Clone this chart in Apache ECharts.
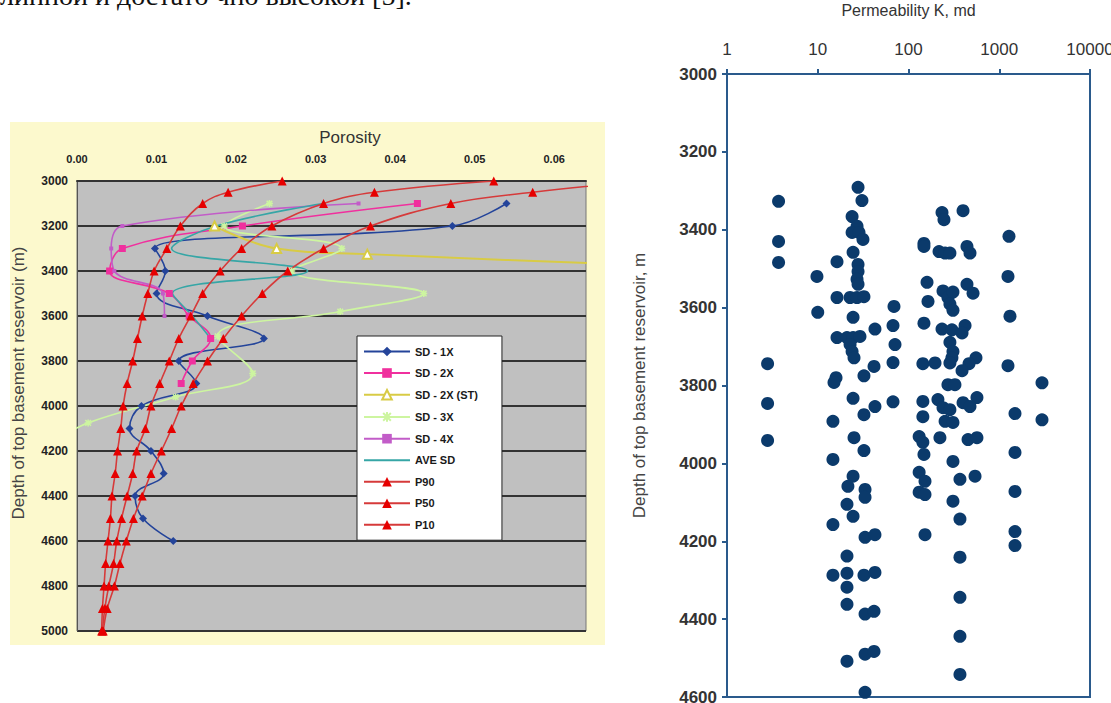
<!DOCTYPE html>
<html>
<head>
<meta charset="utf-8">
<script src="https://cdn.jsdelivr.net/npm/echarts@6/dist/echarts.min.js"></script>
<style>
  html, body { margin: 0; padding: 0; background: #fff; }
  #chart { width: 1111px; height: 703px; }
</style>
</head>
<body>
<div id="chart"></div>
<script>
// --- porosity profiles (left chart) ---
const pDepth = [3000, 3050, 3100, 3200, 3300, 3400, 3500, 3600, 3700, 3800, 3900, 4000, 4100, 4200, 4300, 4400, 4500, 4600, 4700, 4800, 4900, 5000]
const p90 = [0.0258, 0.0190, 0.0158, 0.0130, 0.0113, 0.0097, 0.0089, 0.0082, 0.0076, 0.0070, 0.0063, 0.0058, 0.0055, 0.0051, 0.0048, 0.0044, 0.0042, 0.0039, 0.0036, 0.0034, 0.0032, 0.0031]
const p50 = [0.0524, 0.0374, 0.0310, 0.0245, 0.0207, 0.0180, 0.0158, 0.0143, 0.0128, 0.0116, 0.0104, 0.0093, 0.0086, 0.0075, 0.0070, 0.0063, 0.0056, 0.0050, 0.0046, 0.0040, 0.0035, 0.0032]
const p10 = [0.0710, 0.0573, 0.0470, 0.0369, 0.0310, 0.0265, 0.0233, 0.0207, 0.0184, 0.0164, 0.0146, 0.0131, 0.0119, 0.0106, 0.0093, 0.0082, 0.0071, 0.0062, 0.0054, 0.0047, 0.0038, 0.0033]

const sd1Depth = [3100, 3200, 3300, 3400, 3500, 3600, 3700, 3800, 3900, 4000, 4100, 4200, 4300, 4400, 4500, 4600]
const sd1 = [0.0540, 0.0472, 0.0098, 0.0111, 0.0100, 0.0164, 0.0235, 0.0128, 0.0150, 0.0081, 0.0066, 0.0093, 0.0109, 0.0073, 0.0083, 0.0121]

const sd2Depth = [3100, 3200, 3300, 3400, 3500, 3600, 3700, 3800, 3900]
const sd2 = [0.0428, 0.0208, 0.0057, 0.0041, 0.0116, 0.0141, 0.0168, 0.0145, 0.0131]

const sd2stDepth = [3200, 3300, 3325, 3400]
const sd2st = [0.0173, 0.0251, 0.0365, 0.0900]

const sd3Depth = [3100, 3200, 3300, 3400, 3500, 3580, 3690, 3855, 3960, 4075, 4150]
const sd3 = [0.0242, 0.0185, 0.0333, 0.0270, 0.0436, 0.0331, 0.0177, 0.0221, 0.0124, 0.0014, -0.0025]

const sd4Depth = [3100, 3200, 3300, 3400, 3500, 3600]
const sd4 = [0.0354, 0.0057, 0.0043, 0.0047, 0.0108, 0.0110]

const aveDepth = [3100, 3200, 3300, 3400, 3500, 3600, 3700]
const ave = [0.0310, 0.0175, 0.0119, 0.0290, 0.0120, 0.0145, 0.0168]

// --- permeability samples (right chart) ---
const permK = [
  3.7, 3.7, 3.7, 2.8, 2.8, 2.8,
  9.8, 10, 16.3,
  27.8, 30.7, 23.9, 27.1,
  23.9, 28.5, 31.5, 24.5, 27.8, 27.8, 27.1, 27.8,
  16.3, 22.7, 27.1, 32.3, 24.5, 16.3, 21, 24.5, 29.2, 22.7, 23.9, 25.1,
  42.7, 41.7, 32.3, 15.9, 15.1, 24.5, 42.7, 32.3, 14.7, 25.1, 32.3, 14.7,
  69.2, 67.5, 71, 67.5, 67.5,
  148, 148, 217, 253, 286, 441, 476,
  160, 164, 240, 272, 309, 441, 514, 286, 309,
  148, 234, 301, 420, 389, 286, 309, 301,
  144, 196, 286, 554, 464, 389, 272, 325,
  144, 211, 240, 286, 399, 568, 476,
  144, 253, 309, 131, 144, 222, 453, 568,
  148, 309, 234, 246, 399,
  1280, 1248, 1313, 1248, 1491, 1491,
  2958, 2958,
  24.5, 21.5, 33.2, 33.2, 21, 24.5, 14.7, 33.2, 42.7, 21, 14.7, 21, 32.3, 42.7, 21, 21, 33.2, 41.7, 21, 33.2, 41.7, 33.2,
  131, 152, 131, 152, 152,
  369, 541, 309, 369, 369, 369, 369, 369,
  1491, 1491, 1491
]
const permDepth = [
  3327, 3430, 3484, 3744, 3846, 3941,
  3520, 3612, 3482,
  3291, 3325, 3366, 3391,
  3407, 3407, 3425, 3458, 3489, 3507, 3527, 3540,
  3574, 3574, 3574, 3572, 3625, 3677, 3677, 3677, 3674, 3695, 3713, 3729,
  3655, 3751, 3775, 3780, 3792, 3833, 3854, 3875, 3892, 3934, 3967, 3990,
  3597, 3646, 3695, 3741, 3842,
  3435, 3443, 3456, 3460, 3460, 3443, 3460,
  3535, 3584, 3557, 3574, 3560, 3540, 3563, 3591, 3607,
  3640, 3655, 3657, 3646, 3665, 3689, 3713, 3729,
  3744, 3742, 3742, 3729, 3744, 3762, 3798, 3798,
  3841, 3836, 3857, 3862, 3844, 3831, 3854,
  3880, 3892, 3895, 3931, 3946, 3934, 3939, 3934,
  3977, 3995, 3356, 3374, 3351,
  3417, 3520, 3622, 3749, 3872, 3972,
  3793, 3888,
  4033, 4059, 4067, 4087, 4105, 4136, 4157, 4190, 4183, 4238, 4287, 4282, 4287, 4280, 4318, 4362, 4387, 4380, 4508, 4490, 4483, 4588,
  4023, 4046, 4074, 4080, 4183,
  4041, 4033, 4097, 4143, 4241, 4344, 4444, 4542,
  4072, 4175, 4211
]

const zip = (xs, ys) => xs.map((x, i) => [x, ys[i]])

const chart = echarts.init(document.getElementById('chart'), null, { renderer: 'svg' })

const labelFont = 'Liberation Sans'
const redLine = '#d63a3a'
const redMark = '#e60000'
const blueAxis = '#2a5a8c'
const plain = v => String(v)

function profile(name, xs, ys, color, symbol, size, extra) {
  return Object.assign({
    name: name,
    type: 'line',
    xAxisIndex: 0,
    yAxisIndex: 0,
    data: zip(xs, ys),
    smooth: 0.4,
    symbol: symbol,
    symbolSize: size,
    showAllSymbol: true,
    lineStyle: { color: color, width: 1.6 },
    itemStyle: { color: color },
    emphasis: { disabled: true }
  }, extra || {})
}

chart.setOption({
  animation: false,
  backgroundColor: '#fff',
  textStyle: { fontFamily: labelFont },
  graphic: [
    {
      type: 'rect', z: -10, silent: true,
      shape: { x: 10, y: 122, width: 595, height: 523 },
      style: { fill: '#fcf9cd' }
    },
    {
      type: 'text', silent: true,
      style: {
        x: 0, y: -5, text: 'линной и достато чно высокой [5].',
        font: '28px "Liberation Serif"', fill: '#111',
        align: 'left', verticalAlign: 'middle'
      }
    },
    {
      type: 'text', silent: true,
      style: {
        x: 350, y: 137, text: 'Porosity',
        font: '17px "Liberation Sans"', fill: '#333',
        align: 'center', verticalAlign: 'middle'
      }
    },
    {
      type: 'text', silent: true,
      x: 18, y: 383, rotation: Math.PI / 2,
      style: {
        x: 0, y: 0, text: 'Depth of top basement reservoir (m)',
        font: '17px "Liberation Sans"', fill: '#444',
        align: 'center', verticalAlign: 'middle'
      }
    }
  ],
  legend: {
    data: ['SD - 1X', 'SD - 2X', 'SD - 2X (ST)', 'SD - 3X', 'SD - 4X',
      { name: 'AVE SD', itemStyle: { opacity: 0 } }, 'P90', 'P50', 'P10'],
    orient: 'vertical',
    left: 357,
    top: 336,
    itemWidth: 46,
    itemHeight: 12,
    itemGap: 10.5,
    padding: [10, 24, 10, 6],
    backgroundColor: '#fff',
    borderColor: '#222',
    borderWidth: 1,
    borderRadius: 0,
    selectedMode: false,
    textStyle: { fontSize: 11, fontWeight: 'bold', color: '#1a1a1a', fontFamily: labelFont }
  },
  grid: [
    {
      left: 77, top: 181, width: 509, height: 450,
      show: true, backgroundColor: '#c0c0c0', borderColor: '#777', borderWidth: 1,
      outerBoundsMode: 'none', containLabel: false
    },
    {
      left: 727, top: 74, width: 363, height: 623,
      show: true, backgroundColor: '#fff', borderColor: blueAxis, borderWidth: 2,
      outerBoundsMode: 'none', containLabel: false
    }
  ],
  xAxis: [
    {
      gridIndex: 0, type: 'value', position: 'top',
      min: 0, max: 0.064, interval: 0.01,
      axisLine: { show: true, lineStyle: { color: '#333', width: 2 } },
      axisTick: { show: false },
      splitLine: { show: false },
      axisLabel: {
        showMaxLabel: false, margin: 17,
        fontSize: 11, fontWeight: 'bold', color: '#222',
        formatter: v => v.toFixed(2)
      }
    },
    {
      gridIndex: 1, type: 'log', logBase: 10, position: 'top',
      min: 1, max: 10000,
      name: 'Permeability K, md', nameLocation: 'middle', nameGap: 56,
      nameTextStyle: { fontSize: 16, color: '#333' },
      axisLine: { show: true, lineStyle: { color: blueAxis, width: 2 } },
      axisTick: { show: true, inside: false, length: 5, lineStyle: { color: blueAxis, width: 2 } },
      minorTick: { show: false },
      splitLine: { show: false },
      axisLabel: { margin: 16, fontSize: 17, color: '#333', formatter: plain }
    }
  ],
  yAxis: [
    {
      gridIndex: 0, type: 'value', inverse: true,
      min: 3000, max: 5000, interval: 200,
      axisLine: { show: true, lineStyle: { color: '#555', width: 1 } },
      axisTick: { show: false },
      splitLine: { show: true, lineStyle: { color: '#333', width: 2 } },
      axisLabel: { margin: 9, fontSize: 12, fontWeight: 'bold', color: '#222', formatter: plain }
    },
    {
      gridIndex: 1, type: 'value', inverse: true,
      min: 3000, max: 4600, interval: 200,
      name: 'Depth of top basement reservoir, m', nameLocation: 'middle', nameGap: 79, nameRotate: 90,
      nameTextStyle: { fontSize: 17, color: '#444' },
      axisLine: { show: true, lineStyle: { color: blueAxis, width: 2 } },
      axisTick: { show: true, length: 5, lineStyle: { color: blueAxis, width: 2 } },
      splitLine: { show: false },
      axisLabel: { margin: 10, fontSize: 17, fontWeight: 'bold', color: '#333', formatter: plain }
    }
  ],
  series: [
    profile('SD - 1X', sd1, sd1Depth, '#24449a', 'diamond', 8),
    profile('SD - 2X', sd2, sd2Depth, '#f0309e', 'rect', 7),
    profile('SD - 2X (ST)', sd2st, sd2stDepth, '#d8cb45', 'emptyTriangle', 9, {
      lineStyle: { color: '#d8cb45', width: 2 }
    }),
    profile('SD - 3X', sd3, sd3Depth, '#cdf5a0', 'path://M0,-5L0,5M-5,0L5,0M-4,-4L4,4M-4,4L4,-4', 7, {
      itemStyle: { color: '#cdf5a0', borderColor: '#cdf5a0', borderWidth: 1.5 }
    }),
    profile('SD - 4X', sd4, sd4Depth, '#c25cc8', 'rect', 4),
    profile('AVE SD', ave, aveDepth, '#36a6a6', 'none', 0),
    profile('P90', p90, pDepth, redLine, 'triangle', 9, { itemStyle: { color: redMark } }),
    profile('P50', p50, pDepth, redLine, 'triangle', 9, { itemStyle: { color: redMark } }),
    profile('P10', p10, pDepth, redLine, 'triangle', 9, { itemStyle: { color: redMark } }),
    {
      name: 'Permeability',
      type: 'scatter',
      xAxisIndex: 1,
      yAxisIndex: 1,
      data: zip(permK, permDepth),
      symbol: 'circle',
      symbolSize: 13,
      itemStyle: { color: '#0b3a6b', opacity: 1 },
      emphasis: { disabled: true }
    }
  ]
})
</script>
</body>
</html>
